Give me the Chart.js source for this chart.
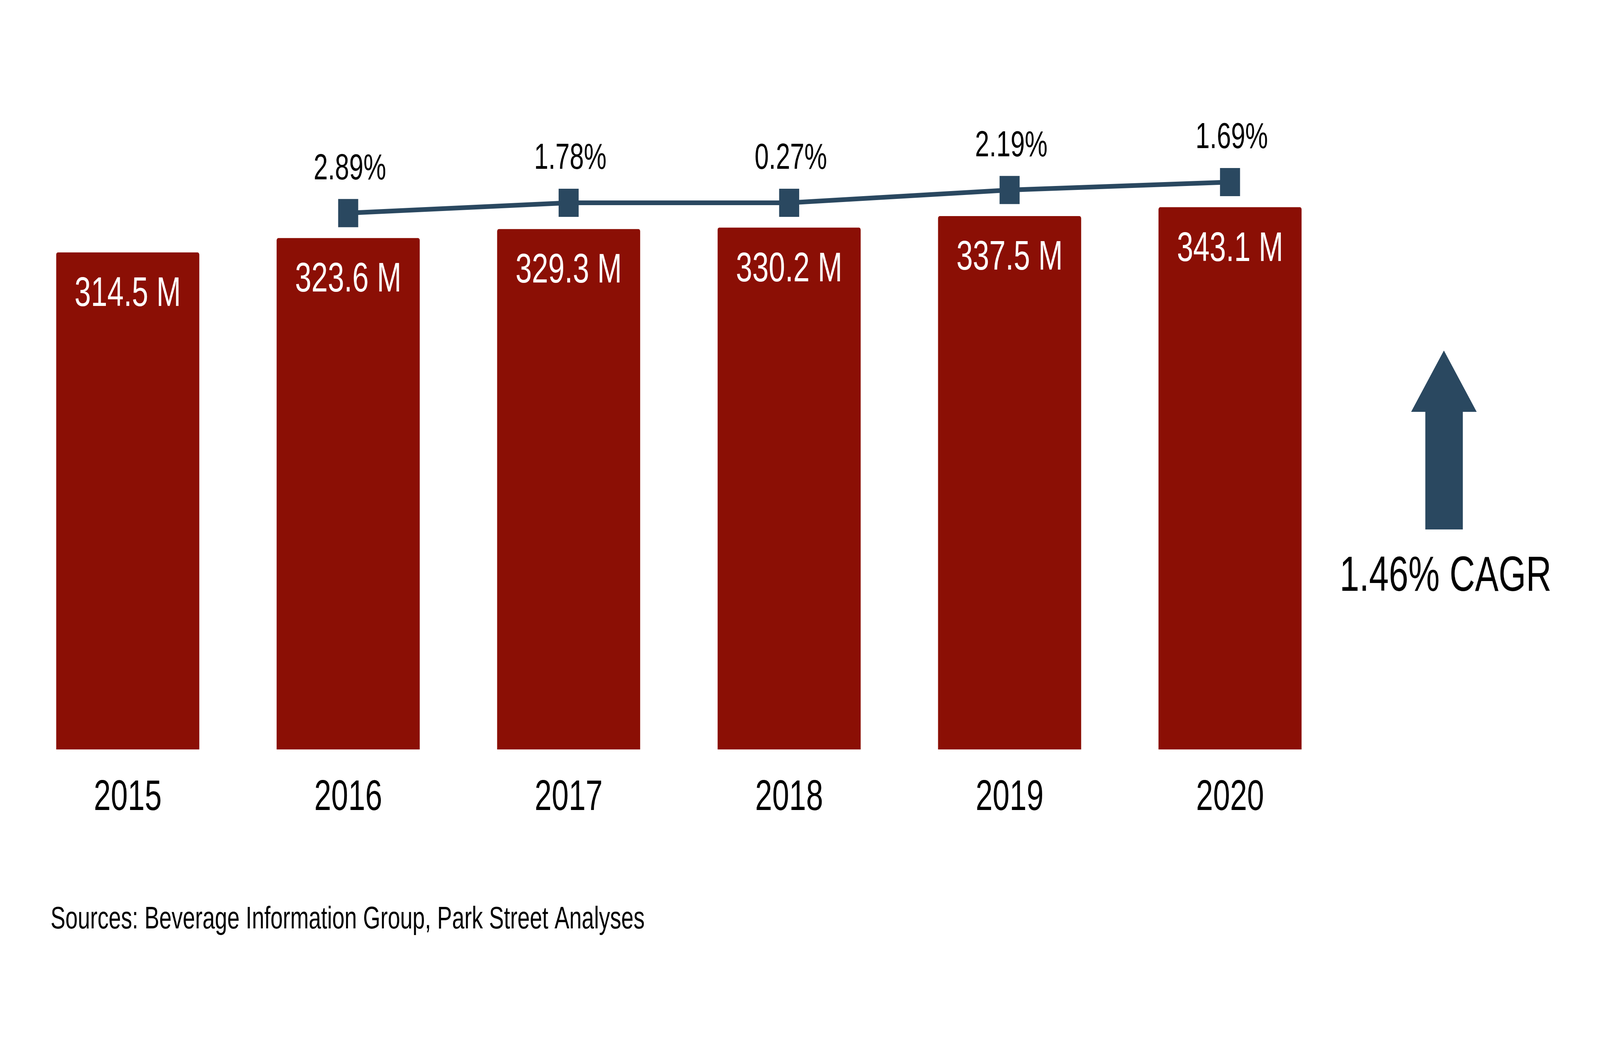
<!DOCTYPE html>
<html>
<head>
<meta charset="utf-8">
<script src="https://cdn.jsdelivr.net/npm/chart.js@4.4.1/dist/chart.umd.min.js"></script>
<style>
  html, body { margin: 0; padding: 0; background: #ffffff; overflow: hidden; }
  canvas { display: block; }
</style>
</head>
<body>
<canvas id="c" width="5760" height="2700"></canvas>
<script>
// ---- data ----
const years = ['2015', '2016', '2017', '2018', '2019', '2020'];
const volumes = [314.5, 323.6, 329.3, 330.2, 337.5, 343.1];          // millions
const volumeLabels = ['314.5 M', '323.6 M', '329.3 M', '330.2 M', '337.5 M', '343.1 M'];
const trendLine = [null, 339.4, 345.9, 345.9, 354.0, 359.0];           // trend marker levels (read on bar scale)
const growthLabels = [null, '2.89%', '1.78%', '0.27%', '2.19%', '1.69%'];
const cagrLabel = '1.46% CAGR';
const sourceNote = 'Sources: Beverage Information Group, Park Street Analyses';

const FONT = '"Liberation Sans", Arial, Helvetica, sans-serif';
const RED = '#8B0F05';
const NAVY = '#2A4860';

// The drawing is laid out on a 5760x2700 canvas; show it across the whole window.
const canvasEl = document.getElementById('c');
canvasEl.style.width = (window.innerWidth || 5760) + 'px';
canvasEl.style.height = (window.innerHeight || 2700) + 'px';

const labelPlugin = {
  id: 'labels',
  afterDatasetsDraw(chart) {
    const ctx = chart.ctx;
    ctx.save();
    const barMeta = chart.getDatasetMeta(0);
    ctx.font = '106px ' + FONT;
    ctx.fillStyle = '#ffffff';
    ctx.textAlign = 'center';
    ctx.textBaseline = 'middle';
    barMeta.data.forEach((el, i) => {
      ctx.fillText(volumeLabels[i], el.x, el.y + 108);
    });
    const lineMeta = chart.getDatasetMeta(1);
    ctx.font = '92px ' + FONT;
    ctx.fillStyle = '#000000';
    lineMeta.data.forEach((el, i) => {
      if (growthLabels[i] == null || trendLine[i] == null) return;
      ctx.fillText(growthLabels[i], el.x + 6, el.y - 112);
    });
    ctx.restore();
  },
  afterDraw(chart) {
    const ctx = chart.ctx;
    ctx.save();
    ctx.fillStyle = NAVY;
    ctx.beginPath();
    ctx.moveTo(5198, 897);
    ctx.lineTo(5316, 1054);
    ctx.lineTo(5266, 1054);
    ctx.lineTo(5266, 1355);
    ctx.lineTo(5131, 1355);
    ctx.lineTo(5131, 1054);
    ctx.lineTo(5080, 1054);
    ctx.closePath();
    ctx.fill();
    ctx.fillStyle = '#000000';
    ctx.font = '127px ' + FONT;
    ctx.textAlign = 'center';
    ctx.textBaseline = 'alphabetic';
    ctx.fillText(cagrLabel, 5204, 1512);
    ctx.font = '80px ' + FONT;
    ctx.textAlign = 'left';
    ctx.fillText(sourceNote, 182, 2376);
    ctx.restore();
  }
};

new Chart(canvasEl, {
  data: {
    labels: years,
    datasets: [
      {
        type: 'bar',
        data: volumes,
        backgroundColor: RED,
        borderWidth: 0,
        borderRadius: { topLeft: 6, topRight: 6, bottomLeft: 0, bottomRight: 0 },
        borderSkipped: false,
        barPercentage: 0.649,
        categoryPercentage: 1.0,
        order: 2
      },
      {
        type: 'line',
        data: trendLine,
        borderColor: NAVY,
        borderWidth: 12,
        pointStyle: 'rect',
        pointRadius: 51,
        pointHoverRadius: 51,
        pointBackgroundColor: NAVY,
        pointBorderWidth: 0,
        spanGaps: false,
        tension: 0,
        order: 1
      }
    ]
  },
  options: {
    responsive: false,
    animation: false,
    devicePixelRatio: 1,
    layout: { padding: { left: 63, right: 935, top: 98, bottom: 0 } },
    plugins: {
      legend: { display: false },
      tooltip: { enabled: false },
      title: { display: false }
    },
    scales: {
      x: {
        grid: { display: false },
        border: { display: false },
        ticks: {
          color: '#000000',
          font: { family: FONT, size: 110, lineHeight: 1.2 },
          padding: 51,
          maxRotation: 0,
          autoSkip: false
        },
        afterFit(scale) { scale.height = 2700 - 1918; }
      },
      y: {
        display: false,
        min: 0,
        max: 450
      }
    }
  },
  plugins: [labelPlugin]
});
</script>
</body>
</html>
